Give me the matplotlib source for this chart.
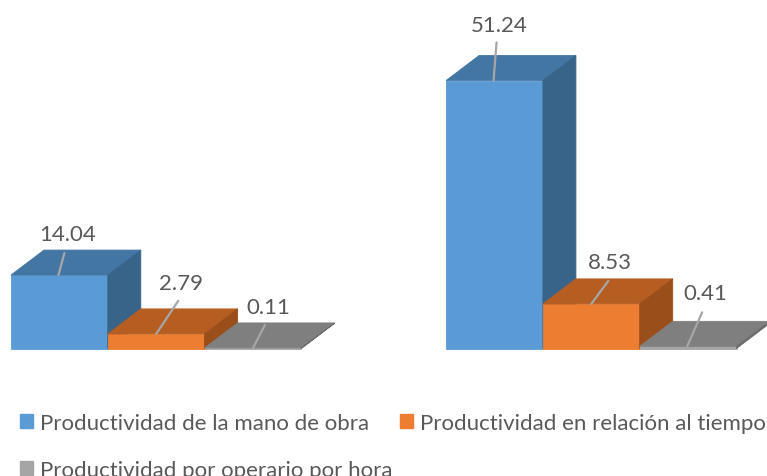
import matplotlib.pyplot as plt
from matplotlib.patches import Patch

plt.rcParams["font.family"] = ["Lato", "DejaVu Sans"]

series_names = [
    "Productividad de la mano de obra",
    "Productividad en relación al tiempo",
    "Productividad por operario por hora",
]
group_a = [14.04, 2.79, 0.11]
group_b = [51.24, 8.53, 0.41]

front_colors = ["#5B9BD5", "#ED7D31", "#A5A5A5"]
top_colors = ["#4476A4", "#B65D22", "#7F7F7F"]
side_colors = ["#38648A", "#9A4F1B", "#6B6B6B"]
text_color = "#595959"
leader_color = "#A6A6A6"

W, H = 767, 477
BASE_Y = 349.5      # baseline, px from top
LEFT_X = 11         # left edge of first bar, px
PX_PER_BAR = 96.8
PX_PER_VALUE = 5.23
DEPTH_X = 33 / PX_PER_BAR
DEPTH_Y = 25 / PX_PER_VALUE
GROUP_STARTS = [0, 4.495]

# leader start along the bar front (fraction), leader end and label offset in px
leaders_a = [(0.49, 6, 22, 9, 41), (0.50, 22, 33, 25, 51), (0.50, 12, 23, 15, 41)]
leaders_b = [(0.49, 3, 38, 6, 56), (0.50, 17, 23, 19, 42), (0.49, 15, 34, 18, 53)]


def draw_bar(ax, x, value, i):
    x1 = x + 1
    ax.fill([x, x1, x1, x], [0, 0, value, value], color=front_colors[i], lw=0.6, zorder=2 + i)
    ax.fill([x, x1, x1 + DEPTH_X, x + DEPTH_X],
            [value, value, value + DEPTH_Y, value + DEPTH_Y],
            color=top_colors[i], lw=0.6, zorder=2 + i)
    ax.fill([x1, x1 + DEPTH_X, x1 + DEPTH_X, x1],
            [0, DEPTH_Y, value + DEPTH_Y, value],
            color=side_colors[i], lw=0.6, zorder=2 + i)


fig = plt.figure(figsize=(W / 100, H / 100), dpi=100)
ax = fig.add_axes([0, 0, 1, 1])
ax.set_xlim(-LEFT_X / PX_PER_BAR, (W - LEFT_X) / PX_PER_BAR)
ax.set_ylim(-(H - BASE_Y) / PX_PER_VALUE, BASE_Y / PX_PER_VALUE)
ax.axis("off")

for start, values, leaders in zip(GROUP_STARTS, [group_a, group_b], [leaders_a, leaders_b]):
    for i, (value, lead) in enumerate(zip(values, leaders)):
        x = start + i
        draw_bar(ax, x, value, i)
        frac, end_dx, end_dy, text_dx, text_dy = lead
        ax.annotate("", xy=(x + frac, value), xytext=(end_dx, end_dy), textcoords="offset pixels",
                    arrowprops=dict(arrowstyle="-", color=leader_color, lw=1.6,
                                    shrinkA=0, shrinkB=0), zorder=6)
        ax.annotate(f"{value:.2f}", xy=(x + frac, value), xytext=(text_dx, text_dy),
                    textcoords="offset pixels", ha="center", va="center",
                    fontsize=16, color=text_color, zorder=7)

# column order: first column holds the 1st and 3rd series
order = [0, 2, 1]
handles = [Patch(color=front_colors[i], label=series_names[i]) for i in order]
fig.legend(handles=handles, ncol=2, loc="upper left",
           bbox_to_anchor=(13 / W, 1 - 407 / H), frameon=False, fontsize=16,
           labelcolor=text_color, handlelength=0.6, handleheight=0.6,
           handletextpad=0.33, labelspacing=1.22, columnspacing=0.3,
           borderpad=0.3, borderaxespad=0)

fig.savefig("out.png", dpi=100)
plt.close(fig)
